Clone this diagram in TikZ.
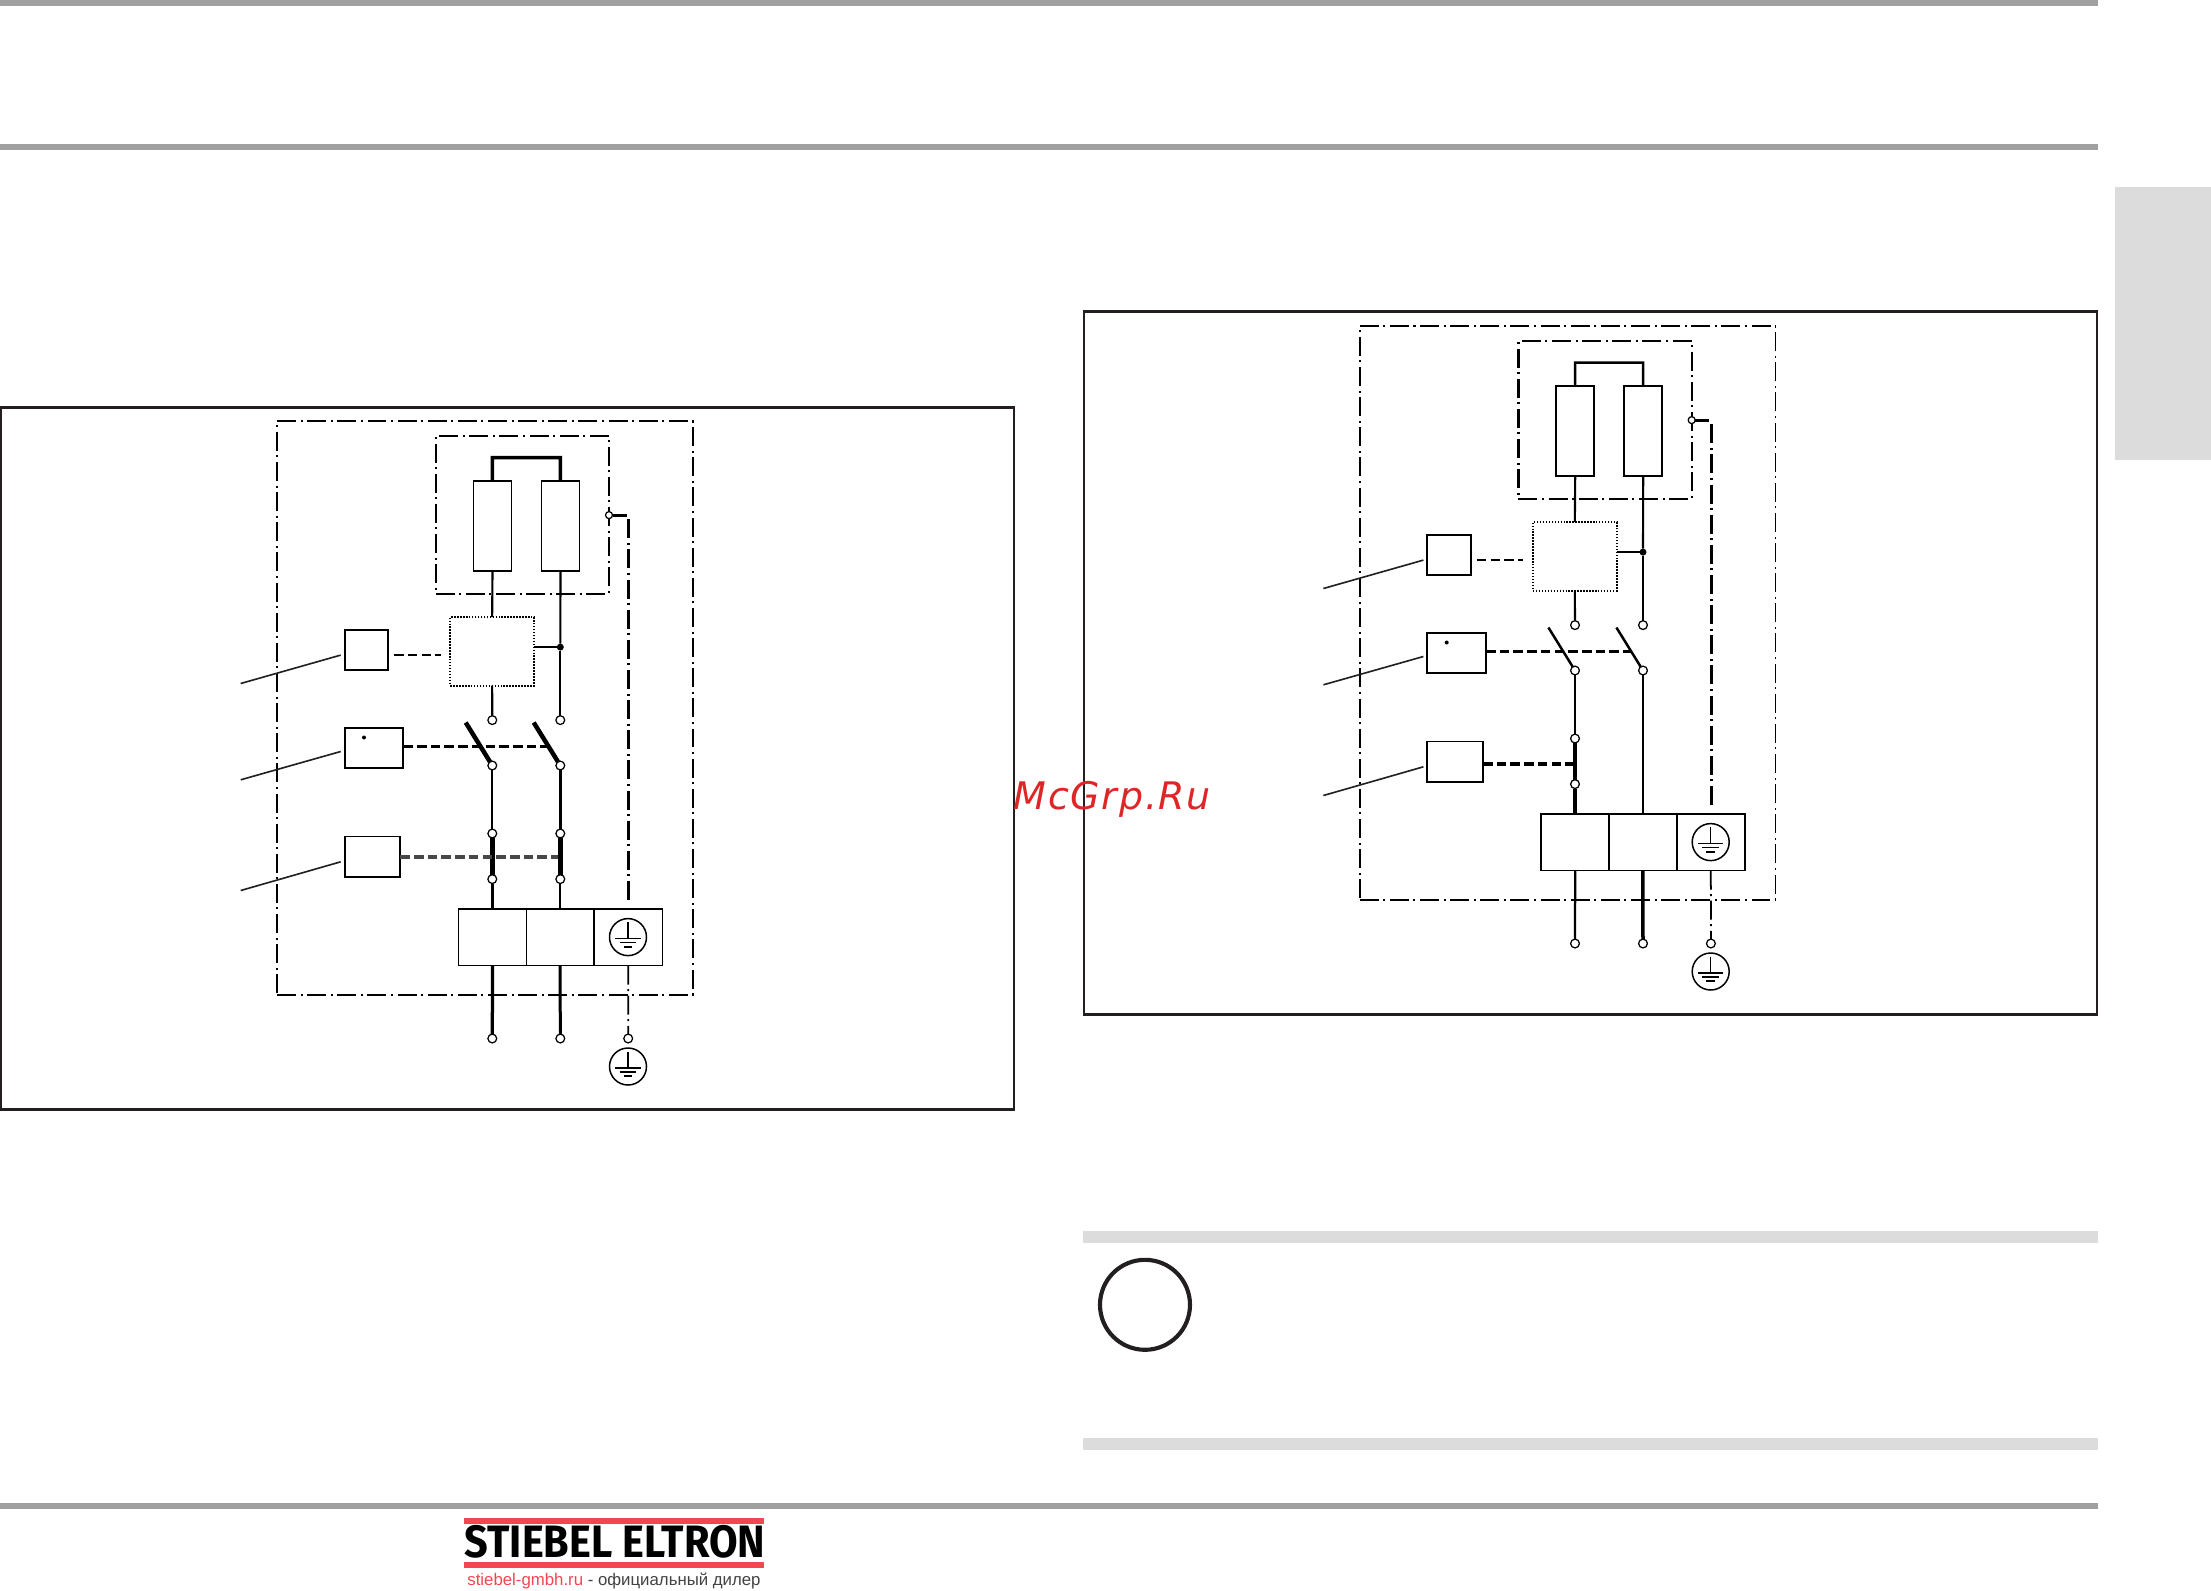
\documentclass[tikz,border=0pt]{standalone}
\usepackage{fontspec}
\usepackage{graphicx}
\setmainfont{Liberation Sans}
\newfontfamily\wmfont[LetterSpace=4.5]{DejaVu Sans}
\newfontfamily\logofont{Fira Sans}
\usetikzlibrary{calc}
\definecolor{barg}{RGB}{160,160,160}
\definecolor{lightg}{RGB}{220,220,220}
\definecolor{ink}{RGB}{35,31,32}
\definecolor{wmred}{RGB}{222,38,38}
\definecolor{logored}{RGB}{242,70,80}
\tikzset{
  lw/.style={line width=#1*0.0125cm},
  plainbox/.style={draw=black,inner sep=0pt,outer sep=0pt},
  frame/.style={plainbox,draw=ink,lw=1.7},
  outerbox/.style={plainbox,lw=1.4,dash pattern=on 5.4pt off 1.3pt on .57pt off 1.3pt},
  innerbox/.style={plainbox,lw=1.8,dash pattern=on 5.4pt off 1.3pt on .57pt off 1.3pt},
  dotbox/.style={plainbox,lw=1.6,dash pattern=on .42pt off .42pt},
  termn/.style={circle,draw=black,fill=white,lw=1,inner sep=0pt,outer sep=0pt,minimum size=8.8*0.01cm},
  juncn/.style={circle,fill=black,inner sep=0pt,outer sep=0pt,minimum size=7*0.01cm},
  dotn/.style={circle,fill=black,inner sep=0pt,outer sep=0pt,minimum size=4*0.01cm},
  gndc/.style={circle,draw=black,lw=1.2,inner sep=0pt,outer sep=0pt,minimum size=37*0.01cm},
  ctrl/.style={lw=2.2,dash pattern=on 2.7pt off 1.2pt},
  pedash/.style={dash pattern=on 5.4pt off 1.3pt on .57pt off 1.3pt},
  leader/.style={draw=ink,lw=1.3},
}
\newcommand{\bx}[6]{\node[#1,minimum width={(#5-#3)*0.01cm},minimum height={(#6-#4)*0.01cm}] (#2) at ({(#3+#5)/2},{(#4+#6)/2}) {};}
\newcommand{\gnd}[3]{%
  \node[gndc] (#1) at (#2,#3) {};
  \draw[lw=1.1] ([shift={(0,-15)}]#1.center) -- ([shift={(0,1.4)}]#1.center);
  \draw[lw=1.3] ([shift={(-12.7,1.4)}]#1.center) -- ([shift={(12.7,1.4)}]#1.center);
  \draw[lw=1.2] ([shift={(-8.3,5.4)}]#1.center) -- ([shift={(8.3,5.4)}]#1.center);
  \draw[lw=1.8] ([shift={(-4.3,9.7)}]#1.center) -- ([shift={(4.3,9.7)}]#1.center);
}
\newcommand{\commonparts}{%
  \bx{outerbox}{outer}{277}{420}{692.7}{994}
  \bx{innerbox}{inner}{435.7}{435}{609}{593}
  \bx{resbox}{R1}{473.3}{480.3}{511.7}{570.3}
  \bx{resbox}{R2}{541.3}{480.3}{579.7}{570.3}
  \bx{dotbox}{D}{450.3}{616.3}{534}{684.7}
  \bx{ctlbox}{A}{344.7}{629}{388.3}{669}
  \bx{ctlbox}{B}{344.7}{727}{403.3}{767.3}
  \bx{ctlbox}{C}{344.7}{835.7}{400.3}{876.3}
  \bx{cellbox}{TB1}{458.7}{908.3}{526.3}{964.7}
  \bx{cellbox}{TB2}{526.3}{908.3}{594}{964.7}
  \bx{cellbox}{TB3}{594}{908.3}{662.3}{964.7}
  \node[dotn] (Bd) at (364,736.7) {};
  \node[termn] (T1) at (492.3,719.3) {};
  \node[termn] (T2) at (560.3,719.3) {};
  \node[termn] (S1) at (492.3,764.7) {};
  \node[termn] (S2) at (560.3,764.7) {};
  \node[termn] (B1) at (492.3,1037.7) {};
  \node[termn] (B2) at (560.3,1037.7) {};
  \node[termn] (B3) at (628.2,1037.7) {};
  \node[termn,minimum size=7*0.01cm] (P) at (609,514.3) {};
  \node[juncn] (J) at (560.3,646.3) {};
  \gnd{G1}{628}{936.3}
  \gnd{G2}{628}{1065.7}
  \coordinate (tr1) at (492.3,456.7);
  \coordinate (tr2) at (560.3,456.7);
  \draw[bridgew,line join=miter] (R1.north) -- (tr1) -- (tr2) -- (R2.north);
  \draw[lw=1.7] (R1.south) -- (D.north);
  \draw[lw=1.7] (R2.south) -- (J);
  \draw[lw=1.7] (J) -- (T2);
  \draw[lw=1.7] (D.east |- J) -- (J);
  \draw[lw=1.7] (D.south) -- (T1);
  \coordinate (sw1) at (465.7,721.7);
  \coordinate (sw2) at (533.7,721.7);
  \draw[bladew] (sw1) -- (S1);
  \draw[bladew] (sw2) -- (S2);
  \coordinate (dA) at (440.7,654.3);
  \draw[ctrl] ([xshift=1.7]A.east |- dA) -- (dA);
  \coordinate (dB) at (549,745.3);
  \draw[ctrl,lw=2.4] (B.east |- dB) -- (dB);
  \coordinate (la1) at (240.7,682.7); \coordinate (la2) at (340.7,654.3);
  \coordinate (lb1) at (240.7,779);   \coordinate (lb2) at (340.7,750.7);
  \coordinate (lc1) at (240.7,889.7); \coordinate (lc2) at (340.7,861);
  \draw[leader] (la1) -- (la2);
  \draw[leader] (lb1) -- (lb2);
  \draw[leader] (lc1) -- (lc2);
  \coordinate (pa) at (626.7,514.3);
  \coordinate (pb) at (628.4,518.5);
  \coordinate (pc) at (628.4,902.7);
  \draw[lw=2.5] (P) -- (pa);
  \draw[lw=2.5,pedash] (pb) -- (pc);
  \draw[lw=1.4,pedash] (TB3.south) -- (B3);
  \draw[botw1] (TB1.south) -- (B1);
  \draw[botw2] (TB2.south) -- (B2);
}
\begin{document}
\begin{tikzpicture}[x=0.01cm,y=-0.01cm]
\useasboundingbox (0,0) rectangle (2211,1590);
\begin{scope}[shift={(0,0.8)}]
% page furniture
\fill[barg] (0,-0.8) rectangle (2098,5.2);
\fill[barg] (0,143) rectangle (2098,149);
\fill[barg] (0,1502) rectangle (2098,1507.7);
\fill[lightg] (2115,186.2) rectangle (2211,459.6);
\fill[lightg] (1082.7,1230) rectangle (2098,1241.7);
\fill[lightg] (1082.7,1437) rectangle (2098,1448.7);
\node[circle,draw=ink,lw=3.3,inner sep=0pt,outer sep=0pt,minimum size=90*0.01cm] (info) at (1145,1304) {};
% frames
\bx{frame}{frameL}{1}{406.7}{1014}{1108.7}
\bx{frame}{frameR}{1084}{310.7}{2096.7}{1013.7}
% left diagram
\begin{scope}[name prefix=L-,
  resbox/.style={plainbox,lw=1},
  ctlbox/.style={plainbox,lw=1.5},
  cellbox/.style={plainbox,lw=1.1},
  bridgew/.style={lw=2.8},
  bladew/.style={lw=3.6},
  botw1/.style={lw=2.6},
  botw2/.style={lw=2.4}]
  \commonparts
  \node[termn] (N1) at (492.3,832.7) {};
  \node[termn] (N2) at (560.3,832.7) {};
  \node[termn] (M1) at (492.3,878.3) {};
  \node[termn] (M2) at (560.3,878.3) {};
  \draw[lw=1.7] (S1) -- (N1);
  \draw[lw=2.6] (S2) -- (N2);
  \draw[lw=4.2] (N1) -- (M1);
  \draw[lw=4.2] (N2) -- (M2);
  \draw[lw=2.5] (M1) -- (M1 |- TB1.north);
  \draw[lw=1.6] (M2) -- (M2 |- TB2.north);
  \coordinate (dC) at (558,856.3);
  \draw[ctrl,draw=black!72,lw=2.6] (C.east |- dC) -- (dC);
\end{scope}
% right diagram
\begin{scope}[shift={(1082.7,-95)},name prefix=Q-,
  resbox/.style={plainbox,lw=1.5},
  ctlbox/.style={plainbox,lw=1.5},
  cellbox/.style={plainbox,lw=1.5},
  bridgew/.style={lw=2},
  bladew/.style={lw=2},
  botw1/.style={lw=1.8},
  botw2/.style={lw=2.8}]
  \commonparts
  \node[termn] (N1) at (492.3,832.7) {};
  \node[termn] (M1) at (492.3,878.3) {};
  \draw[lw=1.7] (S1) -- (N1);
  \draw[lw=2.8] (N1) -- (M1);
  \draw[lw=2.8] (M1) -- (M1 |- TB1.north);
  \draw[lw=1.7] (S2) -- (S2 |- TB2.north);
  \coordinate (dC) at (491,858.3);
  \draw[ctrl,lw=2.6] (C.east |- dC) -- (dC);
\end{scope}
% watermark
\node[anchor=base west,inner sep=0pt,text=wmred,font=\wmfont\itshape\fontsize{10.8pt}{12pt}\selectfont] (wm) at (1013,809) {McGrp.Ru};
% logo
\fill[logored] (464,1516.7) rectangle (764.3,1523);
\fill[logored] (464,1560.7) rectangle (764.3,1566.7);
\node[anchor=south west,inner sep=0pt,text=black] (logo) at (464,1558.4) {\resizebox{3.003cm}{0.322cm}{\logofont\bfseries STIEBEL ELTRON}};
\node[anchor=base west,inner sep=0pt] (dealer) at (466.7,1584.3) {\resizebox{2.93cm}{!}{\textcolor{logored}{stiebel-gmbh.ru}\ \textcolor{ink!85}{- официальный дилер}}};
\end{scope}
\end{tikzpicture}
\end{document}
